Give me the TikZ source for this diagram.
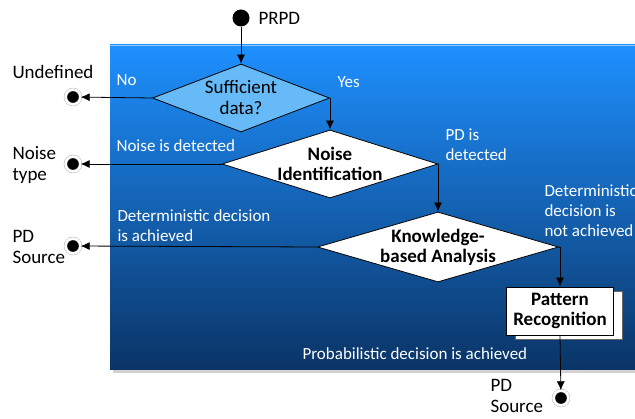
\documentclass[tikz,border=0pt]{standalone}
\usepackage{fontspec}
\setmainfont{Carlito}
\usetikzlibrary{positioning,shapes,shadows,arrows.meta}

\definecolor{boxtop}{RGB}{30,144,255}
\definecolor{boxmid}{RGB}{16,104,200}
\definecolor{boxbot}{RGB}{10,52,102}
\definecolor{skyfill}{RGB}{102,186,248}

\begin{document}
\begin{tikzpicture}[x=1pt,y=-1pt,
    font=\fontsize{19}{21}\selectfont,
    decision/.style={diamond,draw=black,line width=0.8pt,fill=white,inner sep=0pt},
    lbl/.style={align=center,font=\fontsize{19}{20}\selectfont\bfseries},
    endpt/.style={circle,fill=black,draw=gray!70,double=white,double distance=2.5pt,inner sep=0pt,minimum size=15pt},
    note/.style={white,align=left,anchor=west,font=\fontsize{17}{20}\selectfont},
    txt/.style={black,align=left,anchor=west},
    flow/.style={-{Latex[length=9pt,width=8pt]},black,line width=0.8pt}]

\useasboundingbox (0,0) rectangle (635,419);

\fill[black!35,opacity=0.5] (113,48) rectangle (640,373);
\shade[top color=boxtop,middle color=boxmid,bottom color=boxbot] (110,45) rectangle (640,370);
\draw[boxtop!50!white,line width=1pt] (110,45.5) -- (640,45.5);

\node[circle,fill=black,inner sep=0pt,minimum width=17pt,minimum height=15pt] (start) at (241,18) {};
\node[txt] (prpd) at (255,18) {PRPD};

\node[decision,fill=skyfill,minimum width=177pt,minimum height=68pt] (suff) at (241,98) {};
\node[align=center] (sufftxt) at (suff) {Sufficient\\data?};

\node[decision,minimum width=216pt,minimum height=68pt] (noise) at (330,164) {};
\node[lbl] (noisetxt) at (noise) {Noise\\Identification};

\node[decision,minimum width=241pt,minimum height=70pt] (kba) at (438,247) {};
\node[lbl] (kbatxt) at (kba) {Knowledge-\\based Analysis};

\node[draw=black,line width=0.8pt,fill=white,minimum width=107pt,minimum height=48pt,lbl,
    copy shadow={shadow xshift=9pt,shadow yshift=-4pt,fill=white,draw=black!60}] (pattern) at (560,311) {Pattern\\Recognition};

\foreach \name/\y in {undef/97, ntype/164, pdsrc/246} {
    \node[endpt] (\name) at (73,\y) {};
}
\node[endpt] (pdfinal) at (561,398) {};

\node[txt] (undeftxt) at (9,72) {Undefined};
\node[txt] (ntypetxt) at (9,165) {Noise\\type};
\node[txt] (pdsrctxt) at (9,247) {PD\\Source};
\node[txt] (pdfinaltxt) at (487,396) {PD\\Source};

\node[note] (no) at (113,80) {No};
\node[note] (yes) at (334,82) {Yes};
\node[note] (noisedet) at (113,146) {Noise is detected};
\node[note] (pddet) at (442,145) {PD is\\detected};
\node[note] (detach) at (114,226) {Deterministic decision\\is achieved};
\node[note] (detnot) at (541,211) {Deterministic\\decision is\\not achieved};
\node[note] (prob) at (299,354) {Probabilistic decision is achieved};

\draw[flow] (start) -- (suff.north);
\draw[flow] (suff.west) -- (undef);
\draw[flow] (suff.east) -| (noise.north);
\draw[flow] (noise.west) -- (ntype);
\draw[flow] (noise.east) -| (kba.north);
\draw[flow] (kba.west) -- (pdsrc);
\draw[flow] (kba.east) -| (pattern.north);
\draw[flow] (pattern.south) -- (pdfinal);
\end{tikzpicture}
\end{document}
